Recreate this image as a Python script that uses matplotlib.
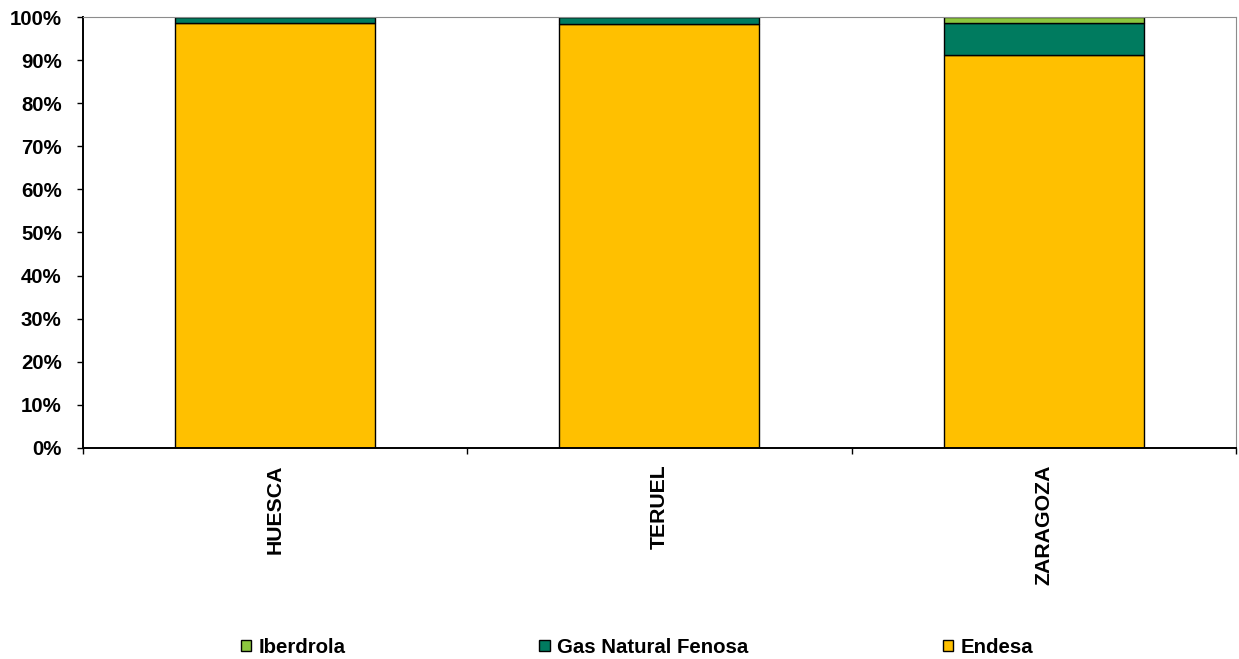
import matplotlib.pyplot as plt
from matplotlib.ticker import PercentFormatter, FixedLocator

# Market share by distributor in each province (percent)
provinces = ['HUESCA', 'TERUEL', 'ZARAGOZA']
endesa = [98.5, 98.3, 91.2]
gas_natural = [1.4, 1.6, 7.3]
iberdrola = [0.1, 0.1, 1.5]

c_endesa = '#FFC000'
c_gnf = '#007B5F'
c_iber = '#8CC63F'

plt.rcParams['font.family'] = ['Liberation Sans', 'DejaVu Sans']
plt.rcParams['font.weight'] = 'bold'

fig = plt.figure(figsize=(12.39, 6.59), dpi=100)
ax = fig.add_axes([0.0666, 0.3202, 0.931, 0.6540])

x = range(len(provinces))
w = 0.52
bottom2 = [a + b for a, b in zip(endesa, gas_natural)]

ax.bar(x, endesa, w, color=c_endesa, edgecolor='black', linewidth=1, label='Endesa')
ax.bar(x, gas_natural, w, bottom=endesa, color=c_gnf, edgecolor='black', linewidth=1,
       label='Gas Natural Fenosa')
ax.bar(x, iberdrola, w, bottom=bottom2, color=c_iber, edgecolor='black', linewidth=1,
       label='Iberdrola')

ax.set_xlim(-0.5, 2.5)
ax.set_ylim(0, 100)
ax.set_yticks(range(0, 101, 10))
ax.yaxis.set_major_formatter(PercentFormatter(decimals=0))

ax.set_xticks(list(x))
ax.set_xticklabels(provinces, rotation=90, fontsize=15.3, fontweight='bold')
ax.xaxis.set_minor_locator(FixedLocator([-0.5, 0.5, 1.5, 2.5]))
ax.tick_params(axis='x', which='major', length=0, pad=12)
ax.tick_params(axis='x', which='minor', length=4, width=1, direction='out')
ax.tick_params(axis='y', length=4, width=1, direction='out', pad=11, labelsize=14.7)
for lbl in ax.get_yticklabels():
    lbl.set_fontweight('bold')

ax.spines['left'].set_color('black')
ax.spines['bottom'].set_color('black')
ax.spines['left'].set_linewidth(1.4)
ax.spines['bottom'].set_linewidth(1.4)
ax.spines['top'].set_color('#8c8c8c')
ax.spines['right'].set_color('#8c8c8c')

handles, labels = ax.get_legend_handles_labels()
leg = fig.legend(handles[::-1], labels[::-1], loc='center', bbox_to_anchor=(0.514, 0.018),
                 ncol=3, frameon=False, fontsize=14.7, handlelength=0.5, handleheight=0.5,
                 handletextpad=0.38, columnspacing=9.5, borderpad=0)
for t in leg.get_texts():
    t.set_fontweight('bold')

plt.savefig('out.png', dpi=100)
